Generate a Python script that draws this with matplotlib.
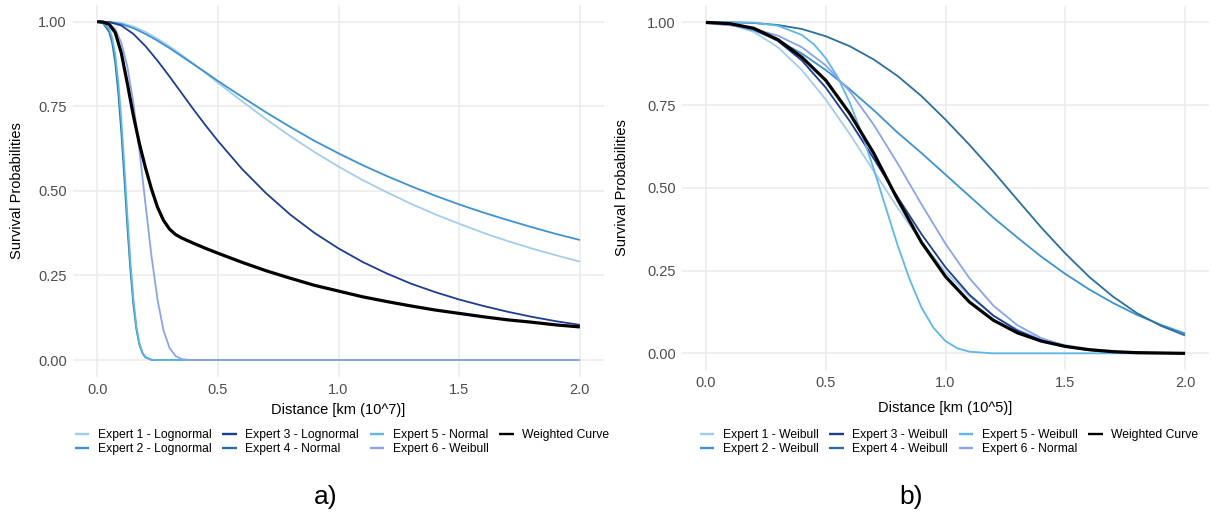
import matplotlib
matplotlib.use('Agg')
import matplotlib.pyplot as plt

# ---- panel a: distance in 10^7 km ----
x_a = [0, 0.05, 0.1, 0.15, 0.2, 0.25, 0.3, 0.35, 0.4, 0.45, 0.5, 0.6, 0.7, 0.8, 0.9,
       1.0, 1.1, 1.2, 1.3, 1.4, 1.5, 1.6, 1.7, 1.8, 1.9, 2.0]
a_exp1 = [1.0, 1.0, 0.996, 0.986, 0.970, 0.950, 0.927, 0.902, 0.875, 0.848, 0.820, 0.765, 0.712, 0.662, 0.615,
          0.572, 0.532, 0.496, 0.462, 0.431, 0.403, 0.376, 0.352, 0.330, 0.310, 0.291]
a_exp2 = [1.0, 0.999, 0.993, 0.981, 0.964, 0.944, 0.922, 0.898, 0.874, 0.850, 0.825, 0.778, 0.732, 0.689, 0.648,
          0.611, 0.576, 0.544, 0.514, 0.486, 0.460, 0.436, 0.414, 0.393, 0.373, 0.355]
a_exp3 = [1.0, 0.999, 0.989, 0.964, 0.928, 0.885, 0.838, 0.789, 0.740, 0.693, 0.648, 0.565, 0.493, 0.430, 0.376,
          0.330, 0.290, 0.256, 0.226, 0.201, 0.179, 0.160, 0.143, 0.128, 0.115, 0.104]

x_a_norm = [0, 0.025, 0.05, 0.0625, 0.075, 0.0875, 0.1, 0.1125, 0.125, 0.1375, 0.15, 0.1625, 0.175, 0.1875, 0.2, 0.225, 0.25, 2.0]
a_exp4 = [1.0, 0.995, 0.970, 0.937, 0.879, 0.792, 0.676, 0.540, 0.399, 0.270, 0.166, 0.092, 0.046, 0.021, 0.008, 0.001, 0.0, 0.0]
a_exp5 = [1.0, 0.997, 0.979, 0.952, 0.902, 0.823, 0.712, 0.576, 0.430, 0.293, 0.181, 0.100, 0.050, 0.022, 0.009, 0.001, 0.0, 0.0]

x_a_weib = [0, 0.025, 0.05, 0.075, 0.1, 0.125, 0.15, 0.175, 0.2, 0.225, 0.25, 0.275, 0.3, 0.325, 0.35, 0.375, 0.4, 2.0]
a_exp6 = [1.0, 1.0, 0.995, 0.978, 0.938, 0.868, 0.761, 0.621, 0.463, 0.308, 0.179, 0.088, 0.036, 0.012, 0.003, 0.001, 0.0, 0.0]

x_a_w = [0, 0.025, 0.05, 0.075, 0.1, 0.125, 0.15, 0.175, 0.2, 0.225, 0.25, 0.275, 0.3, 0.325, 0.35,
         0.4, 0.45, 0.5, 0.6, 0.7, 0.8, 0.9, 1.0, 1.1, 1.2, 1.3, 1.4, 1.5, 1.6, 1.7, 1.8, 1.9, 2.0]
a_weighted = [1.0, 0.999, 0.992, 0.968, 0.908, 0.818, 0.723, 0.640, 0.569, 0.506, 0.452, 0.413, 0.387, 0.371, 0.361,
              0.345, 0.330, 0.316, 0.289, 0.264, 0.242, 0.221, 0.204, 0.187, 0.173, 0.160, 0.148, 0.138, 0.128,
              0.119, 0.112, 0.104, 0.098]

# ---- panel b: distance in 10^5 km ----
x_b = [0, 0.1, 0.2, 0.3, 0.4, 0.5, 0.6, 0.7, 0.8, 0.9, 1.0, 1.1, 1.2, 1.3, 1.4, 1.5, 1.6, 1.7, 1.8, 1.9, 2.0]
b_exp1 = [1.0, 0.994, 0.971, 0.925, 0.856, 0.767, 0.663, 0.551, 0.440, 0.337, 0.246, 0.172, 0.114, 0.072, 0.043, 0.025, 0.013, 0.007, 0.003, 0.002, 0.001]
b_exp2 = [1.0, 0.994, 0.976, 0.946, 0.906, 0.856, 0.798, 0.735, 0.667, 0.605, 0.540, 0.475, 0.410, 0.350, 0.292, 0.240, 0.193, 0.152, 0.116, 0.086, 0.060]
b_exp3 = [1.0, 0.997, 0.980, 0.944, 0.885, 0.803, 0.702, 0.589, 0.472, 0.360, 0.260, 0.177, 0.114, 0.069, 0.039, 0.020, 0.010, 0.005, 0.002, 0.001, 0.0]
b_exp4 = [1.0, 1.0, 0.998, 0.992, 0.980, 0.958, 0.928, 0.888, 0.838, 0.777, 0.706, 0.630, 0.549, 0.464, 0.380, 0.302, 0.231, 0.171, 0.121, 0.083, 0.054]
b_exp6 = [0.997, 0.991, 0.980, 0.960, 0.925, 0.870, 0.792, 0.691, 0.574, 0.450, 0.331, 0.227, 0.144, 0.085, 0.046, 0.023, 0.010, 0.004, 0.002, 0.001, 0.0]
b_weighted = [1.0, 0.996, 0.982, 0.948, 0.895, 0.825, 0.725, 0.605, 0.465, 0.335, 0.232, 0.155, 0.100, 0.062, 0.037, 0.021, 0.011, 0.005, 0.002, 0.001, 0.0]

x_b_e5 = [0, 0.1, 0.2, 0.3, 0.4, 0.45, 0.5, 0.55, 0.6, 0.65, 0.7, 0.75, 0.8, 0.85, 0.9, 0.95, 1.0, 1.05, 1.1, 1.2, 1.3, 2.0]
b_exp5 = [1.0, 1.0, 0.999, 0.990, 0.962, 0.934, 0.892, 0.834, 0.758, 0.665, 0.558, 0.442, 0.327, 0.224, 0.138, 0.077, 0.037, 0.015, 0.005, 0.0, 0.0, 0.0]

labels_a = ['Expert 1 - Lognormal', 'Expert 2 - Lognormal', 'Expert 3 - Lognormal',
            'Expert 4 - Normal', 'Expert 5 - Normal', 'Expert 6 - Weibull', 'Weighted Curve']
labels_b = ['Expert 1 - Weibull', 'Expert 2 - Weibull', 'Expert 3 - Weibull',
            'Expert 4 - Weibull', 'Expert 5 - Weibull', 'Expert 6 - Normal', 'Weighted Curve']
colors = ['#a3cdea', '#3b93d4', '#1c3c96', '#2a6f9e', '#5cb7ec', '#8aa2f0', '#000000']

y_ticks = [0, 0.25, 0.5, 0.75, 1.0]
y_ticklabels = ['0.00', '0.25', '0.50', '0.75', '1.00']
x_ticks = [0, 0.5, 1.0, 1.5, 2.0]
x_ticklabels = ['0.0', '0.5', '1.0', '1.5', '2.0']

SANS = ['Liberation Sans', 'DejaVu Sans']

W, H = 1218, 517
fig = plt.figure(figsize=(W / 100, H / 100), dpi=100)
ax_a = fig.add_axes([73 / W, 1 - 377 / H, (604 - 73) / W, (377 - 4.8) / H])
ax_b = fig.add_axes([682 / W, 1 - 369.9 / H, (1209 - 682) / W, (369.9 - 5.8) / H])


def style(ax):
    ax.set_xlim(-0.1, 2.1)
    ax.set_ylim(-0.05, 1.05)
    ax.set_xticks(x_ticks)
    ax.set_xticklabels(x_ticklabels)
    ax.set_yticks(y_ticks)
    ax.set_yticklabels(y_ticklabels)
    for s in ax.spines.values():
        s.set_visible(False)
    ax.grid(True, color='#ebebeb', linewidth=1.1)
    ax.set_axisbelow(True)
    ax.tick_params(length=0, pad=4.5, colors='#4d4d4d', labelsize=10.5)
    for lab in ax.get_xticklabels() + ax.get_yticklabels():
        lab.set_family(SANS)


def draw(ax, series, labels):
    lines = []
    for (xs, ys), lab, col in zip(series, labels, colors):
        lw = 2.3 if col == '#000000' else 1.3
        ln, = ax.plot(xs, ys, color=col, linewidth=lw, label=lab, solid_capstyle='butt')
        lines.append(ln)
    return lines


lines_a = draw(ax_a, [(x_a, a_exp1), (x_a, a_exp2), (x_a, a_exp3), (x_a_norm, a_exp4),
                      (x_a_norm, a_exp5), (x_a_weib, a_exp6), (x_a_w, a_weighted)], labels_a)
lines_b = draw(ax_b, [(x_b, b_exp1), (x_b, b_exp2), (x_b, b_exp3), (x_b, b_exp4),
                      (x_b_e5, b_exp5), (x_b, b_exp6), (x_b, b_weighted)], labels_b)

for ax in (ax_a, ax_b):
    style(ax)

leg_kw = dict(ncol=4, loc='upper center', frameon=False, bbox_transform=fig.transFigure,
              prop={'family': SANS, 'size': 8.7}, handlelength=1.2, handletextpad=0.7,
              columnspacing=0.9, labelspacing=0.15, borderaxespad=0, borderpad=0)
leg_a = ax_a.legend(handles=lines_a, bbox_to_anchor=(342 / W, 1 - 429 / H), **leg_kw)
leg_b = ax_b.legend(handles=lines_b, bbox_to_anchor=(949 / W, 1 - 429 / H), **leg_kw)
for leg in (leg_a, leg_b):
    for h in leg.legend_handles:
        h.set_linewidth(1.7)

# axis titles
fig.text(338.5 / W, 1 - 410 / H, 'Distance [km (10^7)]', ha='center', va='center', family=SANS, fontsize=10.5)
fig.text(945.5 / W, 1 - 408 / H, 'Distance [km (10^5)]', ha='center', va='center', family=SANS, fontsize=10.5)
fig.text(17 / W, 1 - 191 / H, 'Survival Probabilities', rotation=90, ha='center', va='center', family=SANS, fontsize=10.5)
fig.text(622 / W, 1 - 188 / H, 'Survival Probabilities', rotation=90, ha='center', va='center', family=SANS, fontsize=10.5)

# panel tags
fig.text(326 / W, 1 - 497 / H, 'a)', ha='center', va='center', family=SANS, fontsize=19)
fig.text(911 / W, 1 - 497 / H, 'b)', ha='center', va='center', family=SANS, fontsize=19)

fig.savefig('out.png', dpi=100)
